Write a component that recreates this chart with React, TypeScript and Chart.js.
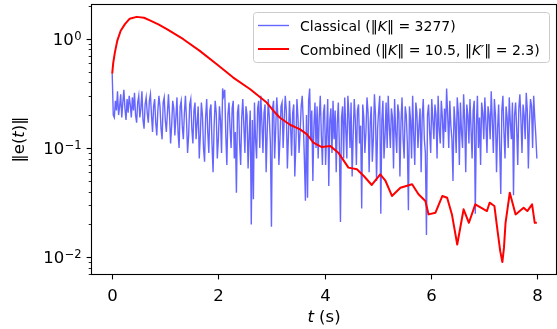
import React, { useEffect, useRef } from "react";
import { Chart, registerables } from "chart.js";

Chart.register(...registerables);

// ---- data ----
const CLASSICAL_DT = 0.02; // sampling step of the classical series (s)
const classicalValues = [
  0.48, 0.2, 0.19, 0.27, 0.22, 0.33, 0.2, 0.24, 0.31, 0.19, 0.26, 0.34, 0.23, 0.18, 0.28, 0.21, 0.3, 0.25, 0.19, 0.29,
  0.22, 0.32, 0.2, 0.17, 0.26, 0.3, 0.19, 0.23, 0.33, 0.18, 0.15, 0.25, 0.29, 0.21, 0.17, 0.27, 0.31, 0.2, 0.14, 0.24,
  0.28, 0.17, 0.13, 0.22, 0.3, 0.24, 0.15, 0.12, 0.26, 0.29, 0.18, 0.14, 0.21, 0.31, 0.2, 0.11, 0.16, 0.27, 0.23, 0.13,
  0.19, 0.29, 0.14, 0.1, 0.24, 0.27, 0.16, 0.12, 0.21, 0.3, 0.18, 0.09, 0.13, 0.25, 0.28, 0.15, 0.11, 0.22, 0.26, 0.12,
  0.17, 0.24, 0.08, 0.13, 0.26, 0.2, 0.1, 0.075, 0.19, 0.28, 0.14, 0.09, 0.22, 0.25, 0.11, 0.06, 0.16, 0.27, 0.21, 0.08,
  0.12, 0.24, 0.18, 0.09, 0.35, 0.3, 0.34, 0.13, 0.07, 0.2, 0.26, 0.15, 0.1, 0.23, 0.27, 0.08, 0.14, 0.039, 0.21, 0.25,
  0.11, 0.07, 0.19, 0.28, 0.16, 0.09, 0.24, 0.2, 0.065, 0.13, 0.22, 0.02, 0.18, 0.034, 0.26, 0.12, 0.08, 0.23, 0.27, 0.1,
  0.3, 0.17, 0.09, 0.21, 0.25, 0.06, 0.14, 0.28, 0.19, 0.11, 0.019, 0.23, 0.27, 0.08, 0.15, 0.29, 0.2, 0.07, 0.12, 0.24,
  0.26, 0.1, 0.18, 0.3, 0.22, 0.065, 0.13, 0.27, 0.16, 0.085, 0.21, 0.25, 0.055, 0.11, 0.28, 0.19, 0.09, 0.14, 0.24, 0.3,
  0.17, 0.08, 0.033, 0.2, 0.035, 0.27, 0.35, 0.12, 0.22, 0.05, 0.16, 0.26, 0.1, 0.24, 0.08, 0.19, 0.3, 0.13, 0.07, 0.21,
  0.25, 0.07, 0.14, 0.28, 0.045, 0.18, 0.23, 0.09, 0.27, 0.12, 0.22, 0.06, 0.17, 0.26, 0.1, 0.021, 0.19, 0.24, 0.08, 0.29,
  0.15, 0.08, 0.3, 0.2, 0.1, 0.26, 0.055, 0.13, 0.28, 0.18, 0.07, 0.22, 0.25, 0.11, 0.16, 0.028, 0.25, 0.19, 0.09, 0.14,
  0.29, 0.21, 0.06, 0.17, 0.24, 0.075, 0.12, 0.31, 0.2, 0.05, 0.15, 0.22, 0.3, 0.025, 0.18, 0.27, 0.08, 0.13, 0.26, 0.1,
  0.3, 0.16, 0.1, 0.23, 0.19, 0.065, 0.28, 0.14, 0.09, 0.25, 0.21, 0.055, 0.17, 0.29, 0.12, 0.08, 0.24, 0.2, 0.11, 0.027,
  0.24, 0.18, 0.08, 0.3, 0.13, 0.07, 0.26, 0.21, 0.1, 0.16, 0.23, 0.06, 0.19, 0.28, 0.12, 0.09, 0.016, 0.2, 0.25, 0.14,
  0.09, 0.28, 0.18, 0.12, 0.25, 0.2, 0.08, 0.3, 0.15, 0.11, 0.27, 0.19, 0.1, 0.23, 0.14, 0.35, 0.2, 0.1, 0.27, 0.16,
  0.12, 0.05, 0.24, 0.17, 0.09, 0.29, 0.21, 0.07, 0.26, 0.14, 0.1, 0.31, 0.18, 0.06, 0.25, 0.2, 0.11, 0.28, 0.15, 0.08,
  0.22, 0.27, 0.025, 0.16, 0.3, 0.1, 0.19, 0.07, 0.26, 0.21, 0.12, 0.29, 0.17, 0.09, 0.24, 0.2, 0.12, 0.33, 0.18, 0.09,
  0.28, 0.2, 0.06, 0.15, 0.25, 0.1, 0.038, 0.22, 0.3, 0.14, 0.08, 0.24, 0.19, 0.1, 0.29, 0.17, 0.12, 0.26, 0.037, 0.2,
  0.26, 0.15, 0.07, 0.23, 0.31, 0.18, 0.09, 0.25, 0.2, 0.12, 0.32, 0.22, 0.065, 0.17, 0.28, 0.24, 0.1, 0.3, 0.19, 0.13,
  0.08,
];

const combinedTimes = [
  0, 0.02, 0.05, 0.095, 0.16, 0.24, 0.33, 0.46, 0.6, 0.71, 0.87, 1.03,
  1.34, 1.65, 1.97, 2.28, 2.6, 2.91, 3.04, 3.16, 3.35, 3.54, 3.67, 3.79,
  3.95, 4.11, 4.26, 4.45, 4.61, 4.74, 4.89, 5.05, 5.15, 5.27, 5.43, 5.65,
  5.77, 5.9, 5.96, 6.09, 6.22, 6.31, 6.4, 6.5, 6.62, 6.72, 6.84, 7.06,
  7.11, 7.2, 7.26, 7.31, 7.35, 7.38, 7.41, 7.49, 7.6, 7.75, 7.82, 7.91,
  7.96, 8.0,
];
const combinedValues = [
  0.478, 0.603, 0.745, 0.953, 1.18, 1.355, 1.52, 1.58, 1.55, 1.47, 1.35, 1.22,
  0.987, 0.772, 0.583, 0.44, 0.344, 0.26, 0.218, 0.189, 0.163, 0.148, 0.133, 0.112,
  0.102, 0.104, 0.0906, 0.0661, 0.0638, 0.0554, 0.0459, 0.0574, 0.0499, 0.0364, 0.0433, 0.0466,
  0.0377, 0.0327, 0.0247, 0.0256, 0.0364, 0.0351, 0.0247, 0.0131, 0.0275, 0.0207, 0.0305, 0.0265,
  0.0316, 0.0295, 0.0174, 0.0114, 0.00906, 0.0122, 0.0207, 0.039, 0.0247, 0.0284, 0.0265, 0.0305,
  0.0207, 0.0207,
];

const xTicks = [0, 2, 4, 6, 8];
const xTickLabels = ["0", "2", "4", "6", "8"];
const yMajorTicks = [0.01, 0.1, 1];
const yMajorExponents = ["\u22122", "\u22121", "0"];
const yMinorTicks = [
  0.007, 0.008, 0.009,
  0.02, 0.03, 0.04, 0.05, 0.06, 0.07, 0.08, 0.09,
  0.2, 0.3, 0.4, 0.5, 0.6, 0.7, 0.8, 0.9,
  2,
];

// legend label segments: [text, italic]
const classicalLabel: [string, boolean][] = [
  ["Classical (\u2016", false],
  ["K", true],
  ["\u2016 = 3277)", false],
];
const combinedLabel: [string, boolean][] = [
  ["Combined (\u2016", false],
  ["K", true],
  ["\u2016 = 10.5, \u2016", false],
  ["K\u2032", true],
  ["\u2016 = 2.3)", false],
];

const FONT = "'DejaVu Sans', sans-serif";
const BLUE = "rgba(0,0,255,0.6)";
const RED = "#ff0000";
const TICK_SIZE = 16.5;
const TITLE_SIZE = 16.5;
const LEGEND_SIZE = 14;

function segWidth(ctx: CanvasRenderingContext2D, segs: [string, boolean][], size: number) {
  let w = 0;
  for (const [t, it] of segs) {
    ctx.font = `${it ? "italic " : ""}${size}px ${FONT}`;
    w += ctx.measureText(t).width;
  }
  return w;
}

function drawSegments(ctx: CanvasRenderingContext2D, segs: [string, boolean][], x: number, y: number, size: number) {
  let cx = x;
  for (const [t, it] of segs) {
    ctx.font = `${it ? "italic " : ""}${size}px ${FONT}`;
    ctx.fillText(t, cx, y);
    cx += ctx.measureText(t).width;
  }
  return cx;
}

const decorPlugin = {
  id: "decor",
  afterDraw(chart: any) {
    const { ctx, chartArea: a, scales } = chart;
    const xs = scales.x;
    const ys = scales.y;
    ctx.save();
    ctx.strokeStyle = "#000";
    ctx.fillStyle = "#000";
    // frame
    ctx.lineWidth = 1.1;
    ctx.strokeRect(a.left, a.top, a.right - a.left, a.bottom - a.top);
    ctx.textBaseline = "alphabetic";
    // x ticks + labels
    ctx.textAlign = "center";
    ctx.font = `${TICK_SIZE}px ${FONT}`;
    xTicks.forEach((v, i) => {
      const px = Math.round(xs.getPixelForValue(v)) + 0.5;
      ctx.beginPath();
      ctx.moveTo(px, a.bottom);
      ctx.lineTo(px, a.bottom + 4.9);
      ctx.stroke();
      ctx.fillText(xTickLabels[i], px, 301);
    });
    // y major ticks + labels (10^k)
    ctx.textAlign = "left";
    yMajorTicks.forEach((v, i) => {
      const py = Math.round(ys.getPixelForValue(v)) + 0.5;
      ctx.beginPath();
      ctx.moveTo(a.left, py);
      ctx.lineTo(a.left - 4.9, py);
      ctx.stroke();
      const supSize = TICK_SIZE * 0.7;
      ctx.font = `${TICK_SIZE}px ${FONT}`;
      const wBase = ctx.measureText("10").width;
      ctx.font = `${supSize}px ${FONT}`;
      const wSup = ctx.measureText(yMajorExponents[i]).width;
      const right = a.left - 4.9 - 4.9;
      const x0 = right - wBase - wSup - 0.5;
      ctx.font = `${TICK_SIZE}px ${FONT}`;
      ctx.fillText("10", x0, py + 5.8);
      ctx.font = `${supSize}px ${FONT}`;
      ctx.fillText(yMajorExponents[i], x0 + wBase + 0.5, py + 0.6);
    });
    ctx.lineWidth = 0.85;
    for (const v of yMinorTicks) {
      const py = Math.round(ys.getPixelForValue(v)) + 0.5;
      if (py < a.top || py > a.bottom) continue;
      ctx.beginPath();
      ctx.moveTo(a.left, py);
      ctx.lineTo(a.left - 2.8, py);
      ctx.stroke();
    }

    // axis titles
    ctx.textAlign = "left";
    {
      const segs: [string, boolean][] = [["t", true], [" (s)", false]];
      const w = segWidth(ctx, segs, TITLE_SIZE);
      const cx = (a.left + a.right) / 2;
      drawSegments(ctx, segs, cx - w / 2, 321.5, TITLE_SIZE);
    }
    {
      const segs: [string, boolean][] = [["\u2016e(", false], ["t", true], [")\u2016", false]];
      const w = segWidth(ctx, segs, TITLE_SIZE);
      ctx.save();
      ctx.translate(23.5, (a.top + a.bottom) / 2);
      ctx.rotate(-Math.PI / 2);
      drawSegments(ctx, segs, -w / 2, 0, TITLE_SIZE);
      ctx.restore();
    }

    // legend
    {
      const bx = 253.5, by = 12.5, bw = 296, bh = 50, r = 3;
      ctx.beginPath();
      ctx.moveTo(bx + r, by);
      ctx.lineTo(bx + bw - r, by);
      ctx.arcTo(bx + bw, by, bx + bw, by + r, r);
      ctx.lineTo(bx + bw, by + bh - r);
      ctx.arcTo(bx + bw, by + bh, bx + bw - r, by + bh, r);
      ctx.lineTo(bx + r, by + bh);
      ctx.arcTo(bx, by + bh, bx, by + bh - r, r);
      ctx.lineTo(bx, by + r);
      ctx.arcTo(bx, by, bx + r, by, r);
      ctx.closePath();
      ctx.fillStyle = "rgba(255,255,255,0.8)";
      ctx.fill();
      ctx.strokeStyle = "#cccccc";
      ctx.lineWidth = 1;
      ctx.stroke();

      ctx.lineCap = "butt";
      ctx.strokeStyle = BLUE;
      ctx.lineWidth = 1.4;
      ctx.beginPath();
      ctx.moveTo(258, 25.5);
      ctx.lineTo(289, 25.5);
      ctx.stroke();
      ctx.strokeStyle = RED;
      ctx.lineWidth = 2;
      ctx.beginPath();
      ctx.moveTo(258, 49);
      ctx.lineTo(289, 49);
      ctx.stroke();

      ctx.fillStyle = "#000";
      drawSegments(ctx, classicalLabel, 300, 30.5, LEGEND_SIZE);
      drawSegments(ctx, combinedLabel, 300, 54.5, LEGEND_SIZE);
    }
    ctx.restore();
  },
};

export default function App() {
  const canvasRef = useRef<HTMLCanvasElement | null>(null);

  useEffect(() => {
    document.body.style.margin = "0";
    const canvas = canvasRef.current;
    if (!canvas) return;
    Chart.defaults.font.family = FONT;

    const classicalData = classicalValues.map((v, i) => ({ x: i * CLASSICAL_DT, y: v }));
    const combinedData = combinedTimes.map((t, i) => ({ x: t, y: combinedValues[i] }));

    const chart = new Chart(canvas, {
      type: "line",
      data: {
        datasets: [
          {
            label: "Combined",
            data: combinedData,
            borderColor: RED,
            borderWidth: 2,
            pointRadius: 0,
            tension: 0,
            fill: false,
            borderJoinStyle: "round",
          },
          {
            label: "Classical",
            data: classicalData,
            borderColor: BLUE,
            borderWidth: 1.4,
            pointRadius: 0,
            tension: 0,
            fill: false,
          },
        ],
      },
      options: {
        responsive: false,
        animation: false,
        devicePixelRatio: 1,
        layout: { padding: { left: 0, top: 4.5, right: 0.5, bottom: 0 } },
        plugins: { legend: { display: false }, tooltip: { enabled: false } },
        events: [],
        scales: {
          x: {
            type: "linear",
            min: -0.39,
            max: 8.37,
            afterBuildTicks: (s: any) => {
              s.ticks = xTicks.map((v) => ({ value: v }));
            },
            afterFit: (s: any) => {
              s.height = 54.5;
              s.paddingLeft = 0;
              s.paddingRight = 0;
            },
            ticks: { display: false },
            grid: { display: false, drawTicks: false },
            border: { display: false },
          },
          y: {
            type: "logarithmic",
            min: 0.00697,
            max: 2.05,
            afterBuildTicks: (s: any) => {
              s.ticks = [...yMajorTicks, ...yMinorTicks]
                .sort((p, q) => p - q)
                .map((v) => ({ value: v }));
            },
            afterFit: (s: any) => {
              s.width = 91.5;
              s.paddingTop = 0;
              s.paddingBottom = 0;
            },
            ticks: { display: false },
            grid: { display: false, drawTicks: false },
            border: { display: false },
          },
        },
      },
      plugins: [decorPlugin],
    });
    return () => chart.destroy();
  }, []);

  return (
    <div style={{ position: "absolute", left: 0, top: 0, width: 557, height: 329 }}>
      <canvas ref={canvasRef} width={557} height={329} style={{ width: 557, height: 329, display: "block" }} />
    </div>
  );
}
